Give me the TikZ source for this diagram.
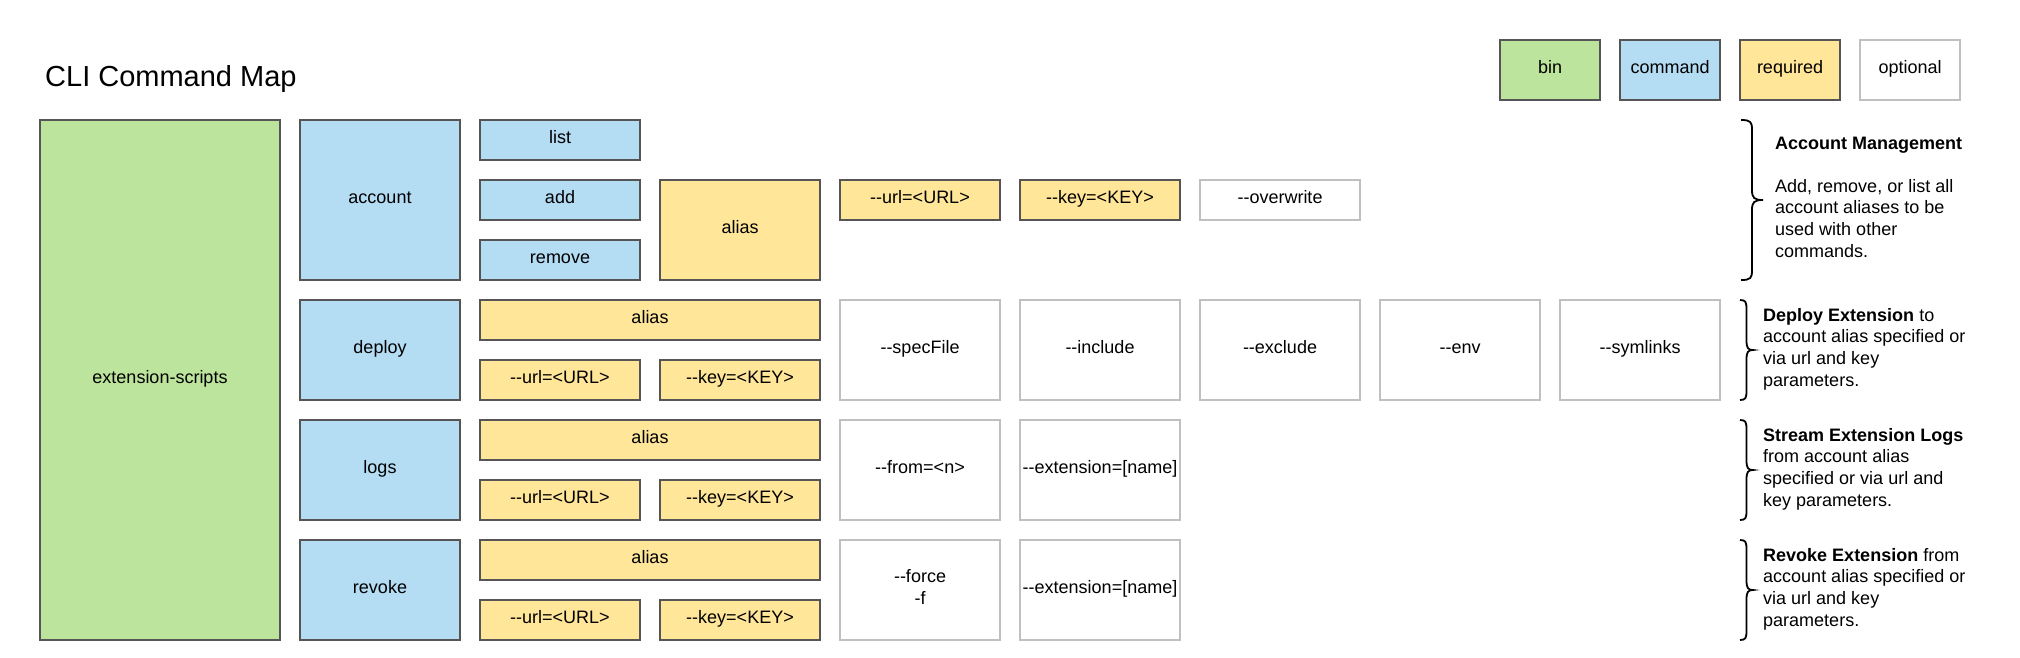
\documentclass[tikz,border=0pt]{standalone}
\usepackage{fontspec}
\setmainfont{Liberation Sans}[Ligatures=TeXOff]
\definecolor{bingreen}{HTML}{BDE49C}
\definecolor{cmdblue}{HTML}{B4DCF3}
\definecolor{reqyellow}{HTML}{FFE699}
\definecolor{darkstroke}{HTML}{555555}
\definecolor{lightstroke}{HTML}{C0C0C0}
\tikzset{
  basebox/.style={draw, line width=1.5pt, inner sep=0pt, align=center, font=\fontsize{18}{21.6}\selectfont, text=black, text height=13pt, text depth=6.4pt},
  binbox/.style={basebox, draw=darkstroke, fill=bingreen},
  cmdbox/.style={basebox, draw=darkstroke, fill=cmdblue},
  reqbox/.style={basebox, draw=darkstroke, fill=reqyellow},
  optbox/.style={basebox, draw=lightstroke, fill=white},
  twoline/.style={text height=34.6pt, text depth=6.6pt},
  sidetext/.style={anchor=west, align=left, inner sep=0pt, font=\fontsize{18}{21.6}\selectfont},
  bracestroke/.style={draw=black, line width=1.8pt}
}
\newcommand{\bx}[7]{\node[#2, minimum width={(#5-#3)*1pt}, minimum height={(#6-#4)*1pt}] (#1) at ({(#3+#5)/2},{(#4+#6)/2}) {#7};}
\newcommand{\brc}[4]{% x0, y0, y1, width
  \pgfmathsetmacro{\xm}{#1+#4/2}\pgfmathsetmacro{\xe}{#1+#4}\pgfmathsetmacro{\ym}{(#2+#3)/2}
  \draw[bracestroke] (#1,#2) .. controls ({#1+#4*0.45},#2) and (\xm,{#2+2}) .. (\xm,{#2+10})
    -- (\xm,{\ym-10}) .. controls (\xm,{\ym-2}) and ({#1+#4*0.6},\ym) .. (\xe,\ym)
    .. controls ({#1+#4*0.6},\ym) and (\xm,{\ym+2}) .. (\xm,{\ym+10})
    -- (\xm,{#3-10}) .. controls (\xm,{#3-2}) and ({#1+#4*0.45},#3) .. (#1,#3);}
\begin{document}
\begin{tikzpicture}[x=1pt,y=-1pt]
\useasboundingbox (0,0) rectangle (2020,657);
\node[anchor=base west, inner sep=0pt, font=\fontsize{29}{34}\selectfont] (title) at (45,86) {CLI Command Map};
% legend
\bx{lgbin}{binbox}{1500}{40}{1600}{100}{bin}
\bx{lgcmd}{cmdbox}{1620}{40}{1720}{100}{command}
\bx{lgreq}{reqbox}{1740}{40}{1840}{100}{required}
\bx{lgopt}{optbox}{1860}{40}{1960}{100}{optional}
% bin
\bx{ext}{binbox}{40}{120}{280}{640}{extension-scripts}
% account
\bx{account}{cmdbox}{300}{120}{460}{280}{account}
\bx{list}{cmdbox}{480}{120}{640}{160}{list}
\bx{add}{cmdbox}{480}{180}{640}{220}{add}
\bx{remove}{cmdbox}{480}{240}{640}{280}{remove}
\bx{aliasA}{reqbox}{660}{180}{820}{280}{alias}
\bx{urlA}{reqbox}{840}{180}{1000}{220}{--url=<URL>}
\bx{keyA}{reqbox}{1020}{180}{1180}{220}{--key=<KEY>}
\bx{overwrite}{optbox}{1200}{180}{1360}{220}{--overwrite}
% deploy
\bx{deploy}{cmdbox}{300}{300}{460}{400}{deploy}
\bx{aliasD}{reqbox}{480}{300}{820}{340}{alias}
\bx{urlD}{reqbox}{480}{360}{640}{400}{--url=<URL>}
\bx{keyD}{reqbox}{660}{360}{820}{400}{--key=<KEY>}
\bx{specfile}{optbox}{840}{300}{1000}{400}{--specFile}
\bx{include}{optbox}{1020}{300}{1180}{400}{--include}
\bx{exclude}{optbox}{1200}{300}{1360}{400}{--exclude}
\bx{env}{optbox}{1380}{300}{1540}{400}{--env}
\bx{symlinks}{optbox}{1560}{300}{1720}{400}{--symlinks}
% logs
\bx{logs}{cmdbox}{300}{420}{460}{520}{logs}
\bx{aliasL}{reqbox}{480}{420}{820}{460}{alias}
\bx{urlL}{reqbox}{480}{480}{640}{520}{--url=<URL>}
\bx{keyL}{reqbox}{660}{480}{820}{520}{--key=<KEY>}
\bx{fromL}{optbox}{840}{420}{1000}{520}{--from=<n>}
\bx{extL}{optbox}{1020}{420}{1180}{520}{--extension=[name]}
% revoke
\bx{revoke}{cmdbox}{300}{540}{460}{640}{revoke}
\bx{aliasR}{reqbox}{480}{540}{820}{580}{alias}
\bx{urlR}{reqbox}{480}{600}{640}{640}{--url=<URL>}
\bx{keyR}{reqbox}{660}{600}{820}{640}{--key=<KEY>}
\bx{forceR}{optbox,twoline}{840}{540}{1000}{640}{--force\\-f}
\bx{extR}{optbox}{1020}{540}{1180}{640}{--extension=[name]}
% braces
\brc{1741}{120}{280}{22}
\brc{1740}{300}{400}{13}
\brc{1740}{420}{520}{13}
\brc{1740}{540}{640}{13}
% side texts
\node[sidetext] (txtA) at (1775,197) {\textbf{Account Management}\\[21.6pt]Add, remove, or list all\\account aliases to be\\used with other\\commands.};
\node[sidetext] (txtD) at (1763,349) {\textbf{Deploy Extension} to\\account alias specified or\\via url and key\\parameters.};
\node[sidetext] (txtL) at (1763,469) {\textbf{Stream Extension Logs}\\from account alias\\specified or via url and\\key parameters.};
\node[sidetext] (txtR) at (1763,589) {\textbf{Revoke Extension} from\\account alias specified or\\via url and key\\parameters.};
\end{tikzpicture}
\end{document}
